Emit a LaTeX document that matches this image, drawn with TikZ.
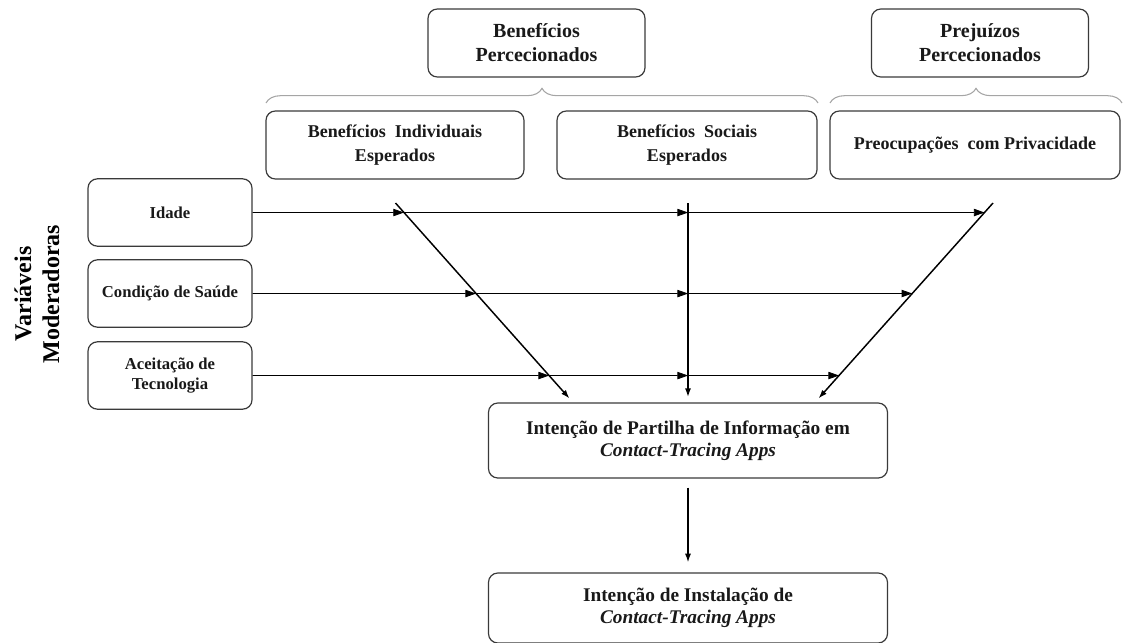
\documentclass[tikz,border=0pt]{standalone}
\usepackage{fontspec}
\setmainfont{Liberation Serif}
\usetikzlibrary{arrows.meta,decorations.pathreplacing}

\definecolor{boxgray}{HTML}{3A3A3A}
\definecolor{bracegray}{HTML}{A5A5A5}

\tikzset{
  box/.style={draw=boxgray, line width=0.9pt, rounded corners=7pt,
    align=center, inner sep=0pt, text=black!90},
  topbox/.style={box, minimum width=162.75pt, minimum height=51pt,
    font=\bfseries\fontsize{15}{18}\selectfont},
  midbox/.style={box, minimum height=51pt,
    font=\bfseries\fontsize{13.5}{18}\selectfont},
  modbox/.style={box, minimum width=123pt, minimum height=50.5pt,
    font=\bfseries\fontsize{12.5}{15}\selectfont},
  outbox/.style={box, minimum width=299.25pt,
    font=\bfseries\fontsize{14.5}{16.5}\selectfont},
  thinarrow/.style={-{Triangle[length=8pt,width=5.5pt]}, line width=0.6pt},
  thickarrow/.style={-{Latex[length=6.5pt,width=4.5pt]}, line width=1.1pt},
  groupbrace/.style={draw=bracegray, line width=0.8pt, decorate,
    decoration={brace, amplitude=11pt}}
}

\begin{document}
\begin{tikzpicture}[x=0.75pt, y=-0.75pt]
  \useasboundingbox (0,0) rectangle (1129,643);

  % perceived benefits / harms
  \node[topbox] (perbenef) at (536.5,43) {Benefícios\\Percecionados};
  \node[topbox] (perharm) at (980,43) {Prejuízos\\Percecionados};
  \draw[groupbrace] (266,103) -- (818,103);
  \draw[groupbrace] (830,103) -- (1122,103);

  \node[midbox, minimum width=193.5pt] (indiv) at (395,145) {Benefícios\ \ Individuais\\Esperados};
  \node[midbox, minimum width=195pt] (social) at (687,145) {Benefícios\ \ Sociais\\Esperados};
  \node[midbox, minimum width=217.5pt] (privacy) at (975,145) {Preocupações\ \ com Privacidade};

  % moderators
  \node[rotate=90, align=center, font=\bfseries\fontsize{18}{21}\selectfont] (modlabel) at (37,294) {Variáveis\\Moderadoras};
  \node[modbox] (idade) at (170,212.5) {Idade};
  \node[modbox] (saude) at (170,293.5) {Condição de Saúde};
  \node[modbox] (tecno) at (170,375.5) {Aceitação de\\Tecnologia};

  % outcomes
  \node[outbox, minimum height=56.25pt] (partilha) at (688,440.5) {Intenção de Partilha de Informação em\\\textit{Contact-Tracing Apps}};
  \node[outbox, minimum height=52.5pt] (instala) at (688,608) {Intenção de Instalação de\\\textit{Contact-Tracing Apps}};

  % main paths
  \coordinate (dl) at (395.5,203);
  \coordinate (dv) at (688,203);
  \coordinate (dr) at (993,203);
  \path (partilha.north) ++(-115,0) coordinate (bl);
  \path (partilha.north -| dv) coordinate (bv);
  \path (partilha.north) ++(127,0) coordinate (br);
  \draw[thickarrow, shorten >=4pt] (dl) -- (bl);
  \draw[thickarrow, shorten >=4pt] (dv) -- (bv);
  \draw[thickarrow, shorten >=4pt] (dr) -- (br);
  \draw[thickarrow, shorten <=6.75pt, shorten >=7.5pt] (partilha) -- (instala);

  % moderating effects
  \foreach \r in {idade,saude,tecno}{
    \coordinate (\r-l) at (intersection of \r--\r.east and dl--bl);
    \coordinate (\r-v) at (intersection of \r--\r.east and dv--bv);
    \coordinate (\r-r) at (intersection of \r--\r.east and dr--br);
    \draw[thinarrow] (\r.east) -- (\r-l);
    \draw[thinarrow] (\r-l) -- (\r-v);
    \draw[thinarrow] (\r-v) -- (\r-r);
  }
\end{tikzpicture}
\end{document}
